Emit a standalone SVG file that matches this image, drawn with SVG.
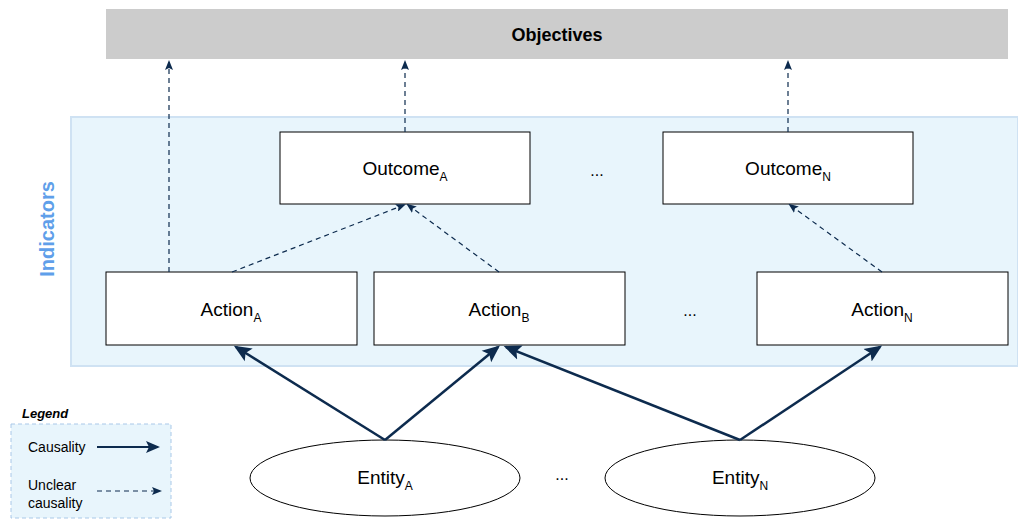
<svg xmlns="http://www.w3.org/2000/svg" width="1018" height="519" viewBox="0 0 1018 519">
<style>
text{font-family:"Liberation Sans",Arial,sans-serif;fill:#000}
.box{fill:#fff;stroke:#000;stroke-width:1}
.lbl{font-size:19px;text-anchor:middle}
.sub{font-size:12px}
.solid{stroke:#0d2b4e;stroke-width:2.5;fill:none;marker-end:url(#ah)}
.dash{stroke:#0d2b4e;stroke-width:1.2;fill:none;stroke-dasharray:5,4;marker-end:url(#ahs)}
</style>
<defs>
<marker id="ah" markerWidth="7" markerHeight="7" refX="6" refY="3" orient="auto" markerUnits="strokeWidth" viewBox="0 0 7 6"><path d="M0,0 L7,3 L0,6 L1.5,3 z" fill="#0d2b4e"/></marker>
<marker id="ahs" markerWidth="10" markerHeight="8" refX="8" refY="4" orient="auto" markerUnits="userSpaceOnUse" viewBox="0 0 10 8"><path d="M0,0 L10,4 L0,8 L2,4 z" fill="#0d2b4e"/></marker>
</defs>
<g id="objectives">
<rect x="106" y="9" width="902" height="50" fill="#cccccc"/>
<text x="557" y="41" font-size="18" font-weight="bold" text-anchor="middle">Objectives</text>
</g>
<g id="indicators">
<rect x="71" y="117" width="947" height="249" fill="#e8f5fc" stroke="#cfe2f3" stroke-width="2"/>
<text transform="translate(54,229) rotate(-90)" font-size="20" font-weight="bold" text-anchor="middle" style="fill:#5f9fea">Indicators</text>
</g>
<g id="outcomeA"><rect class="box" x="280" y="132" width="250" height="72"/><text class="lbl" x="405" y="175">Outcome<tspan class="sub" dy="6">A</tspan></text></g>
<g id="outcomeN"><rect class="box" x="663" y="132" width="250" height="72"/><text class="lbl" x="788" y="175">Outcome<tspan class="sub" dy="6">N</tspan></text></g>
<g id="actionA"><rect class="box" x="106" y="272" width="251" height="73"/><text class="lbl" x="231" y="316">Action<tspan class="sub" dy="6">A</tspan></text></g>
<g id="actionB"><rect class="box" x="374" y="272" width="251" height="73"/><text class="lbl" x="499" y="316">Action<tspan class="sub" dy="6">B</tspan></text></g>
<g id="actionN"><rect class="box" x="757" y="272" width="251" height="73"/><text class="lbl" x="882" y="316">Action<tspan class="sub" dy="6">N</tspan></text></g>
<g id="entityA"><ellipse class="box" cx="385" cy="478" rx="135" ry="38"/><text class="lbl" x="385" y="484">Entity<tspan class="sub" dy="6">A</tspan></text></g>
<g id="entityN"><ellipse class="box" cx="740" cy="478" rx="135" ry="38"/><text class="lbl" x="740" y="484">Entity<tspan class="sub" dy="6">N</tspan></text></g>
<g id="dots">
<text x="597" y="176" font-size="16" text-anchor="middle">...</text>
<text x="690" y="316" font-size="16" text-anchor="middle">...</text>
<text x="562" y="480" font-size="16" text-anchor="middle">...</text>
</g>
<g id="connectors">
<path class="solid" d="M385,440 L236,347"/>
<path class="solid" d="M385,440 L498,347"/>
<path class="solid" d="M740,440 L506,347"/>
<path class="solid" d="M740,440 L880,347"/>
<path class="dash" d="M169,272 L169,62"/>
<path class="dash" d="M405,132 L405,62"/>
<path class="dash" d="M788,132 L788,62"/>
<path class="dash" d="M232,272 L404,205"/>
<path class="dash" d="M499,272 L408,205"/>
<path class="dash" d="M882,272 L790,205"/>
</g>
<g id="legend">
<text x="22" y="418" font-size="13" font-weight="bold" font-style="italic">Legend</text>
<rect x="11" y="424" width="160" height="94" fill="#e8f5fc" stroke="#a9c8e8" stroke-width="1" stroke-dasharray="4,3"/>
<text x="28" y="452" font-size="14">Causality</text>
<path class="solid" d="M97,447 L158,447" style="stroke-width:2"/>
<text x="28" y="490" font-size="14">Unclear</text>
<text x="28" y="508" font-size="14">causality</text>
<path class="dash" d="M97,491 L160,491"/>
</g>
</svg>
